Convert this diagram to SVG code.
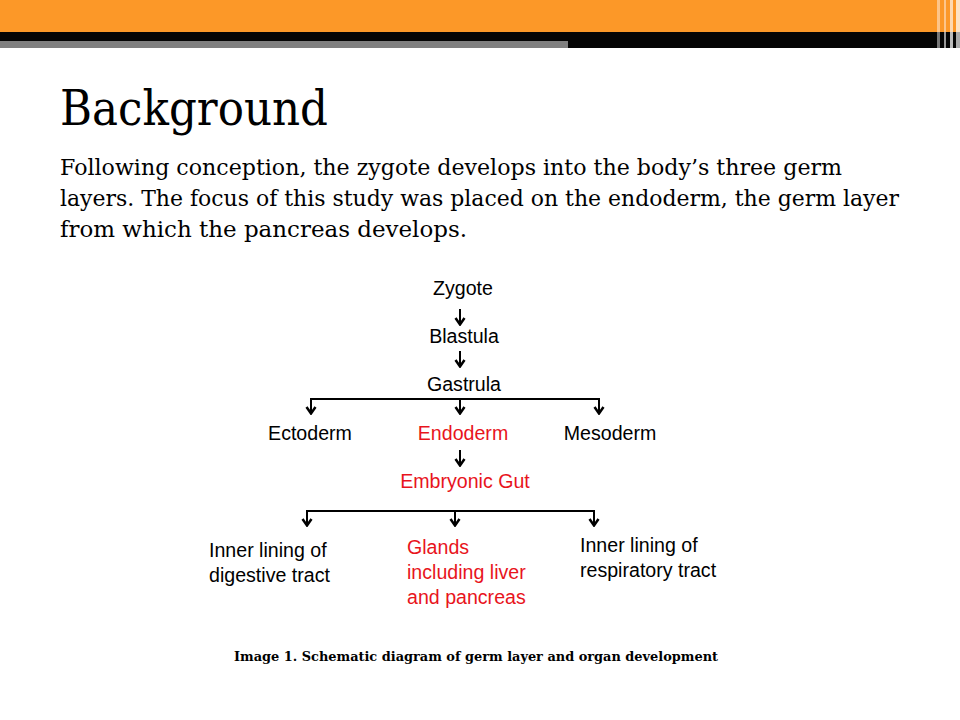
<svg xmlns="http://www.w3.org/2000/svg" width="960" height="720" viewBox="0 0 960 720">
<style>
.d{font-family:"Liberation Sans",Arial,sans-serif;font-size:19.6px;fill:#000}
.r{fill:#e8141c}
.m{text-anchor:middle}
.b{font-family:"DejaVu Serif","Liberation Serif",serif;fill:#000}
.ln{stroke:#000;stroke-width:2;fill:none}
</style>
<defs>
<marker id="ah" viewBox="0 0 12 12" refX="11" refY="6" markerWidth="12" markerHeight="12" markerUnits="userSpaceOnUse" orient="auto-start-reverse">
<path d="M4,1.5 L10.5,6 L4,10.5" fill="none" stroke="#000" stroke-width="2.5"/>
</marker>
</defs>
<rect width="960" height="720" fill="#fff"/>
<g id="header">
<rect x="0" y="0" width="960" height="32" fill="#fc9828"/>
<rect x="0" y="32" width="960" height="16" fill="#050505"/>
<rect x="0" y="41" width="568" height="7" fill="#808080"/>
<rect x="937" y="0" width="3" height="32" fill="#fdc58a"/>
<rect x="944" y="0" width="2" height="32" fill="#fdc58a"/>
<rect x="950" y="0" width="3" height="32" fill="#fed9b0"/>
<rect x="956" y="0" width="4" height="32" fill="#fde3c5"/>
<rect x="937" y="32" width="3" height="16" fill="#777"/>
<rect x="944" y="32" width="2" height="16" fill="#999"/>
<rect x="950" y="32" width="3" height="16" fill="#bbb"/>
<rect x="956" y="32" width="4" height="16" fill="#aaa"/>
</g>
<g id="title">
<text class="b" x="60" y="125" font-size="48" textLength="268" lengthAdjust="spacingAndGlyphs">Background</text>
</g>
<g id="body">
<text class="b" x="60" y="175" font-size="21.5" textLength="782" lengthAdjust="spacingAndGlyphs">Following conception, the zygote develops into the body’s three germ</text>
<text class="b" x="60" y="206" font-size="21.5" textLength="839" lengthAdjust="spacingAndGlyphs">layers. The focus of this study was placed on the endoderm, the germ layer</text>
<text class="b" x="60" y="237" font-size="21.5" textLength="407" lengthAdjust="spacingAndGlyphs">from which the pancreas develops.</text>
</g>
<g id="connectors">
<line class="ln" x1="460" y1="309" x2="460" y2="325" marker-end="url(#ah)"/>
<line class="ln" x1="460" y1="351" x2="460" y2="367" marker-end="url(#ah)"/>
<polyline class="ln" points="311,414 311,399 599,399 599,414" marker-start="url(#ah)" marker-end="url(#ah)"/>
<line class="ln" x1="460" y1="399" x2="460" y2="414" marker-end="url(#ah)"/>
<line class="ln" x1="460" y1="450" x2="460" y2="466" marker-end="url(#ah)"/>
<polyline class="ln" points="307,526 307,511 594,511 594,526" marker-start="url(#ah)" marker-end="url(#ah)"/>
<line class="ln" x1="455" y1="511" x2="455" y2="526" marker-end="url(#ah)"/>
</g>
<g id="zygote"><text class="d m" x="463" y="295">Zygote</text></g>
<g id="blastula"><text class="d m" x="464" y="343">Blastula</text></g>
<g id="gastrula"><text class="d m" x="464" y="391">Gastrula</text></g>
<g id="ectoderm"><text class="d m" x="310" y="440">Ectoderm</text></g>
<g id="endoderm"><text class="d r m" x="463" y="440">Endoderm</text></g>
<g id="mesoderm"><text class="d m" x="610" y="440">Mesoderm</text></g>
<g id="gut"><text class="d r m" x="465" y="488">Embryonic Gut</text></g>
<g id="digestive">
<text class="d" x="209" y="557">Inner lining of</text>
<text class="d" x="209" y="582">digestive tract</text>
</g>
<g id="glands">
<text class="d r" x="407" y="554">Glands</text>
<text class="d r" x="407" y="579">including liver</text>
<text class="d r" x="407" y="604">and pancreas</text>
</g>
<g id="respiratory">
<text class="d" x="580" y="552">Inner lining of</text>
<text class="d" x="580" y="577">respiratory tract</text>
</g>
<g id="caption">
<text class="b" x="234" y="661" font-size="12.5" font-weight="bold" textLength="484" lengthAdjust="spacingAndGlyphs">Image 1. Schematic diagram of germ layer and organ development</text>
</g>
</svg>
